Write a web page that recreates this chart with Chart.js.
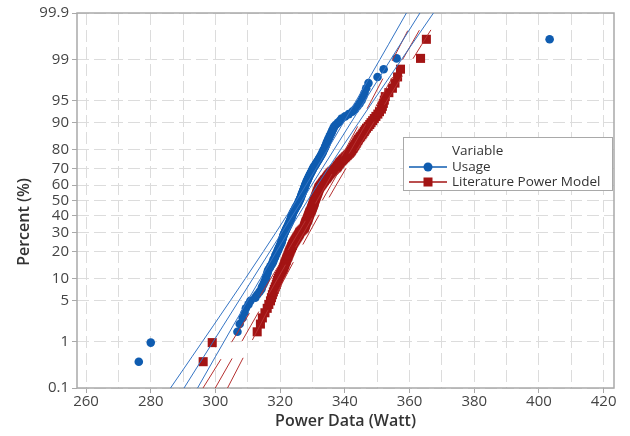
<!DOCTYPE html>
<html><head><meta charset="utf-8">
<script src="https://cdn.jsdelivr.net/npm/chart.js@4.4.1/dist/chart.umd.min.js"></script>
<style>html,body{margin:0;padding:0;background:#fff}#wrap{width:630px;height:436px;position:relative}</style>
</head><body><div id="wrap"><canvas id="c" width="630" height="436"></canvas></div>
<script>
const seriesNames = ['Usage', 'Literature Power Model'];
const usage = [
276.3,280.0,306.8,307.5,308.4,309.0,309.4,310.2,310.8,312.3,
312.9,313.6,314.2,314.4,314.8,315.1,315.4,315.6,315.7,315.9,
316.1,316.2,316.4,316.8,317.0,317.3,317.6,317.8,317.9,318.1,
318.3,318.5,318.6,318.8,319.0,319.2,319.3,319.5,319.6,319.8,
320.0,320.1,320.3,320.4,320.5,320.6,320.7,320.8,320.9,321.0,
321.1,321.2,321.4,321.5,321.6,321.8,321.9,322.0,322.2,322.3,
322.5,322.6,322.7,322.9,323.0,323.1,323.2,323.3,323.4,323.5,
323.6,323.7,323.8,323.9,324.0,324.1,324.3,324.4,324.6,324.7,
324.9,325.0,325.2,325.3,325.5,325.6,325.7,325.8,326.0,326.1,
326.2,326.3,326.4,326.5,326.6,326.7,326.8,326.9,327.0,327.1,
327.2,327.3,327.4,327.5,327.6,327.7,327.8,327.9,328.0,328.1,
328.3,328.4,328.5,328.6,328.8,328.9,329.0,329.2,329.3,329.5,
329.6,329.8,329.9,330.1,330.2,330.4,330.6,330.8,331.0,331.2,
331.4,331.6,331.8,332.0,332.2,332.4,332.6,332.8,333.0,333.2,
333.3,333.5,333.7,333.9,334.0,334.2,334.4,334.5,334.7,334.9,
335.1,335.3,335.5,335.8,336.0,336.2,336.5,336.7,337.3,337.9,
338.5,339.0,340.1,341.2,342.3,343.2,343.9,344.6,345.2,345.7,
346.1,346.6,347.3,350.1,352.0,356.0,403.3];
const literature = [
296.2,299.0,312.9,313.9,314.5,315.3,316.0,316.5,317.0,317.3,
317.6,317.9,318.2,318.5,318.8,319.0,319.2,319.5,319.7,320.0,
320.3,320.5,320.8,321.0,321.2,321.4,321.5,321.7,321.9,322.0,
322.2,322.4,322.5,322.7,322.8,323.0,323.1,323.3,323.5,323.6,
323.8,323.9,324.1,324.3,324.5,324.7,324.9,325.1,325.3,325.5,
325.7,325.9,326.0,326.2,326.5,326.8,327.1,327.4,327.5,327.6,
327.7,327.8,327.9,328.0,328.1,328.3,328.4,328.5,328.6,328.7,
328.8,328.9,329.0,329.1,329.2,329.3,329.5,329.6,329.7,329.8,
329.9,330.0,330.1,330.2,330.3,330.4,330.5,330.5,330.6,330.7,
330.8,330.9,331.0,331.1,331.2,331.3,331.4,331.5,331.6,331.7,
331.8,331.9,332.0,332.1,332.3,332.5,332.7,332.9,333.1,333.3,
333.5,333.7,333.9,334.2,334.4,334.6,334.8,335.0,335.3,335.5,
335.8,336.1,336.5,336.8,337.2,337.5,337.7,337.9,338.2,338.4,
338.6,339.0,339.3,339.6,340.0,340.3,340.7,341.0,341.4,341.7,
342.0,342.2,342.5,342.7,343.0,343.2,343.5,343.7,344.0,344.2,
344.6,344.9,345.3,345.6,346.0,346.3,346.7,347.2,347.7,348.1,
348.6,349.1,349.6,350.2,350.7,351.3,351.6,351.9,352.2,352.5,
353.6,354.7,355.5,356.3,357.2,363.4,365.2];

// fitted line and 95% bounds, x (Watt) at these percent levels
const pctLevels = [0.1,0.5,1,2,5,10,20,30,40,50,60,70,80,90,95,98,99,99.5,99.9];
const usageFit   = [290.29,296.35,299.30,302.51,307.34,311.63,316.82,320.56,323.76,326.75,329.74,332.94,336.68,341.87,346.16,350.99,354.20,357.15,363.21];
const usageLower = [286.11,292.74,295.95,299.45,304.67,309.29,314.80,318.71,321.99,325.01,327.97,331.09,334.66,339.53,343.49,347.93,350.85,353.54,359.03];
const usageUpper = [294.47,299.96,302.65,305.57,310.01,313.98,318.84,322.42,325.53,328.49,331.51,334.80,338.70,344.22,348.83,354.05,357.55,360.76,367.39];
const litFit   = [299.94,305.44,308.11,311.02,315.40,319.29,323.99,327.39,330.29,333.00,335.71,338.61,342.01,346.71,350.60,354.98,357.89,360.56,366.06];
const litLower = [296.15,302.16,305.08,308.24,312.98,317.16,322.16,325.71,328.69,331.42,334.11,336.93,340.18,344.58,348.18,352.20,354.86,357.28,362.27];
const litUpper = [303.73,308.72,311.15,313.80,317.82,321.42,325.83,329.07,331.89,334.58,337.31,340.29,343.85,348.84,353.02,357.76,360.93,363.84,369.85];

const xTicks = [260,270,280,290,300,310,320,330,340,350,360,370,380,390,400,410,420];
const yTicks = [0.1,1,5,10,20,30,40,50,60,70,80,90,95,99,99.9];

// ---- normal probability scale ----
function probit(p){
  p = Math.min(Math.max(p, 1e-9), 1 - 1e-9);
  const a=[-3.969683028665376e+01,2.209460984245205e+02,-2.759285104469687e+02,1.383577518672690e+02,-3.066479806614716e+01,2.506628277459239e+00];
  const b=[-5.447609879822406e+01,1.615858368580409e+02,-1.556989798598866e+02,6.680131188771972e+01,-1.328068155288572e+01];
  const c=[-7.784894002430293e-03,-3.223964580411365e-01,-2.400758277161838e+00,-2.549732539343734e+00,4.374664141464968e+00,2.938163982698783e+00];
  const d=[7.784695709041462e-03,3.224671290700398e-01,2.445134137142996e+00,3.754408661907416e+00];
  const pl=0.02425, ph=1-pl; let q,r;
  if(p<pl){q=Math.sqrt(-2*Math.log(p));return (((((c[0]*q+c[1])*q+c[2])*q+c[3])*q+c[4])*q+c[5])/((((d[0]*q+d[1])*q+d[2])*q+d[3])*q+1);}
  if(p<=ph){q=p-0.5;r=q*q;return (((((a[0]*r+a[1])*r+a[2])*r+a[3])*r+a[4])*r+a[5])*q/(((((b[0]*r+b[1])*r+b[2])*r+b[3])*r+b[4])*r+1);}
  q=Math.sqrt(-2*Math.log(1-p));return -(((((c[0]*q+c[1])*q+c[2])*q+c[3])*q+c[4])*q+c[5])/((((d[0]*q+d[1])*q+d[2])*q+d[3])*q+1);
}
function ncdf(z){const t=1/(1+0.2316419*Math.abs(z));const y=t*(0.319381530+t*(-0.356563782+t*(1.781477937+t*(-1.821255978+t*1.330274429))));const v=1-0.3989422804*Math.exp(-z*z/2)*y;return z>=0?v:1-v;}

class ProbitScale extends Chart.Scale {
  determineDataLimits(){ this.min = this.options.min; this.max = this.options.max; }
  buildTicks(){ return (this.options.tickValues || yTicks).map(v => ({value: v})); }
  getLabelForValue(v){ return String(v); }
  configure(){ super.configure(); this._zmin = probit(this.min/100); this._zmax = probit(this.max/100); }
  getPixelForValue(v){ const z = probit(v/100); return this.getPixelForDecimal((z - this._zmin)/(this._zmax - this._zmin)); }
  getPixelForTick(i){ return this.getPixelForValue(this.ticks[i].value); }
  getValueForPixel(px){ const dd = this.getDecimalForPixel(px); return 100*ncdf(this._zmin + dd*(this._zmax - this._zmin)); }
}
ProbitScale.id = 'probit';
ProbitScale.defaults = {};
Chart.register(ProbitScale);

// median-rank plotting positions
function points(vals){ const n = vals.length; return vals.map((v,i) => ({x: v, y: 100*(i+1-0.3)/(n+0.4)})); }
function line(xs){ return pctLevels.map((p,i) => ({x: xs[i], y: p})); }

const BLUE = '#0f5cb0', BLUE_L = '#3474c4';
const RED = '#a31414', RED_L = '#b53030';
const FONT = '"Open Sans", "Noto Sans", sans-serif';

function lineDs(xs, color, dash){
  return {data: line(xs), showLine: true, borderColor: color, borderWidth: 1, pointRadius: 0, borderDash: dash, order: 0, fill: false};
}

const framePlugin = {
  id: 'frame',
  beforeDatasetsDraw(chart){
    const {ctx, chartArea: a} = chart;
    ctx.save(); ctx.strokeStyle = '#a9a9a9'; ctx.lineWidth = 1.5;
    ctx.strokeRect(a.left, a.top, a.right - a.left, a.bottom - a.top); ctx.restore();
  },
  afterDraw(chart){
    const ctx = chart.ctx;
    // y axis title
    ctx.save();
    ctx.font = '600 16px ' + FONT; ctx.fillStyle = '#333';
    ctx.translate(24, 222); ctx.rotate(-Math.PI/2);
    ctx.textAlign = 'center'; ctx.textBaseline = 'middle';
    ctx.fillText('Percent (%)', 0, 0);
    ctx.restore();
    // legend
    const ds = chart.data.datasets;
    ctx.save();
    ctx.font = '13.5px ' + FONT;
    const tx = 452;
    const bx = 403, by = 137, bw = 209, bh = 53;
    ctx.fillStyle = '#fff'; ctx.fillRect(bx, by, bw, bh);
    ctx.strokeStyle = '#a9a9a9'; ctx.lineWidth = 1; ctx.strokeRect(bx + 0.5, by + 0.5, bw, bh);
    ctx.fillStyle = '#333'; ctx.textBaseline = 'middle'; ctx.textAlign = 'left';
    ctx.fillText('Variable', tx, 151);
    const rows = [[ds[0], 167, 'circle'], [ds[1], 182, 'rect']];
    for (const [d, yy, st] of rows){
      ctx.strokeStyle = d.borderColor; ctx.lineWidth = 1.5; ctx.setLineDash([]);
      ctx.beginPath(); ctx.moveTo(409, yy); ctx.lineTo(447, yy); ctx.stroke();
      ctx.fillStyle = d.backgroundColor;
      if (st === 'circle'){ ctx.beginPath(); ctx.arc(428, yy, 4.5, 0, Math.PI*2); ctx.fill(); }
      else { ctx.fillRect(423.5, yy - 4.5, 9, 9); }
      ctx.fillStyle = '#333'; ctx.fillText(d.label, tx, yy);
    }
    ctx.restore();
  }
};

new Chart(document.getElementById('c'), {
  type: 'scatter',
  data: {
    datasets: [
      {label: seriesNames[0], data: points(usage), backgroundColor: BLUE, borderColor: BLUE, pointStyle: 'circle', pointRadius: 4.3, pointBorderWidth: 0, order: 2},
      {label: seriesNames[1], data: points(literature), backgroundColor: RED, borderColor: RED, pointStyle: 'rect', pointRadius: 6.4, pointBorderWidth: 0, order: 3},
      lineDs(usageFit, BLUE_L, []), lineDs(usageLower, BLUE_L, []), lineDs(usageUpper, BLUE_L, []),
      lineDs(litFit, RED_L, [34, 20]), lineDs(litLower, RED_L, [34, 20]), lineDs(litUpper, RED_L, [34, 20])
    ]
  },
  options: {
    responsive: false, devicePixelRatio: 1, animation: false, events: [],
    layout: {padding: {top: 13, right: 16, left: 0, bottom: 0}},
    plugins: {legend: {display: false}, tooltip: {enabled: false}},
    scales: {
      x: {
        type: 'linear', position: 'bottom', min: 257.2, max: 423.2,
        afterBuildTicks: s => { s.ticks = xTicks.map(v => ({value: v})); },
        afterFit: s => { s.height = 48; },
        ticks: {autoSkip: false, maxRotation: 0, padding: 0, color: '#444', font: {family: FONT, size: 15},
                callback: v => (v % 20 === 0 ? String(v) : '')},
        grid: {color: '#dcdcdc', lineWidth: 1, tickLength: 5,
               tickColor: c => (c.tick && c.tick.value % 20 === 0 ? '#a9a9a9' : 'rgba(0,0,0,0)')},
        border: {display: false, dash: [12, 5]},
        title: {display: true, text: 'Power Data (Watt)', color: '#333', font: {family: FONT, size: 16, weight: '600'}, padding: {top: 0, bottom: 5}}
      },
      y: {
        type: 'probit', position: 'left', min: 0.1, max: 99.9, tickValues: yTicks,
        afterFit: s => { s.width = 77; },
        ticks: {autoSkip: false, padding: 3, color: '#444', font: {family: FONT, size: 15}},
        grid: {color: '#dcdcdc', lineWidth: 1, tickLength: 5, tickColor: '#a9a9a9'},
        border: {display: false, dash: [12, 5]}
      }
    }
  },
  plugins: [framePlugin]
});
</script>
</body></html>
